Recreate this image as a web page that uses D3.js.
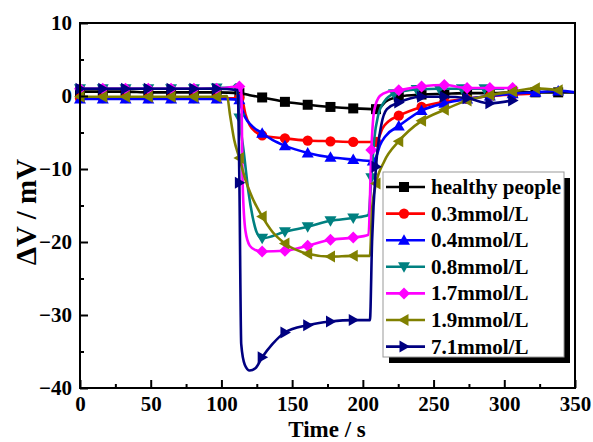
<!DOCTYPE html>
<html>
<head>
<meta charset="utf-8">
<script src="https://cdn.jsdelivr.net/npm/d3@7"></script>
<style>
  body { margin: 0; background: #fff; }
  svg text { font-family: "Liberation Serif", "Times New Roman", serif; font-weight: bold; }
</style>
</head>
<body>
<svg width="593" height="442"></svg>
<script>
// data: [time s, dV mV, marker?]
var seriesNames = ["healthy people", "0.3mmol/L", "0.4mmol/L", "0.8mmol/L", "1.7mmol/L", "1.9mmol/L", "7.1mmol/L"];
var seriesColors = ["#000000", "#ff0000", "#0000ff", "#008080", "#ff00ff", "#808000", "#000080"];
var seriesSymbols = ["square", "circle", "up", "down", "diamond", "left", "right"];

var healthy = [[0,0.6,1],[16.1,0.6,1],[32.2,0.6,1],[48.3,0.5,1],[64.4,0.5,1],[80.5,0.5,1],[96.6,0.5,1],[112.7,0.4,1],[120,0.1,0],
  [128.8,-0.2,1],[144.9,-0.8,1],[161,-1.2,1],[177.1,-1.5,1],[193.2,-1.7,1],[209.3,-1.8,1],[212,-1.6,0],[216,-0.8,0],
  [225.4,-0.1,1],[241.5,0.2,1],[257.6,0.3,1],[273.7,0.4,1],[289.8,0.4,1],[305.9,0.5,1],[322,0.5,1],[338.1,0.5,1],[350,0.5,0]];
var c03 = [[0,-0.3,1],[16.1,-0.3,1],[32.2,-0.3,1],[48.3,-0.3,1],[64.4,-0.3,1],[80.5,-0.3,1],[96.6,-0.3,1],[112.7,-0.3,1],
  [115,-0.8,0],[117,-2.5,0],[120,-4.0,0],[124,-4.9,0],[128.8,-5.4,1],[144.9,-5.8,1],[161,-6.1,1],[177.1,-6.2,1],[193.2,-6.3,1],
  [209.3,-6.3,1],[211,-5.8,0],[214,-4.4,0],[218,-3.5,0],[225.4,-2.7,1],[241.5,-1.5,1],[257.6,-0.8,1],[273.7,-0.4,1],
  [289.8,0,1],[305.9,0.2,1],[320,0.3,0]];
var c04 = [[0,-0.4,1],[16.1,-0.4,1],[32.2,-0.4,1],[48.3,-0.4,1],[64.4,-0.4,1],[80.5,-0.4,1],[96.6,-0.4,1],[112.7,-0.5,1],
  [114,-1.5,0],[117,-3.0,0],[121,-4.0,0],[128.8,-5.1,1],[136,-6.0,0],[144.9,-6.8,1],[161,-7.8,1],[177.1,-8.4,1],[193.2,-8.7,1],
  [207,-8.9,1],[209.5,-8.3,0],[212,-6.8,0],[216,-5.5,0],[225.4,-4.1,1],[241.5,-2.0,1],[257.6,-1.0,1],[273.7,-0.4,1],
  [289.8,0,1],[305.9,0.3,1],[322,0.5,1],[338.1,0.7,1],[350,0.5,0]];
var c08 = [[0,1.0,1],[16.1,1.0,1],[32.2,1.0,1],[48.3,1.0,1],[64.4,1.0,1],[80.5,1.0,1],[96.6,1.1,1],[108,1.2,0],[110.5,1.6,0],
  [112.7,-3.0,1],[116,-8,0],[119,-13,0],[122,-16.5,0],[125,-18.7,0],[128.8,-19.5,1],[144.9,-18.6,1],[161,-17.9,1],
  [177.1,-17.1,1],[193.2,-16.7,1],[204,-16.3,0],[206,-11.2,1],[208,-6,0],[211,-2.5,0],[215,-0.8,0],[222,0.3,1],
  [238,0.9,1],[254,1.0,1],[270,1.0,1],[286,1.0,1],[300,1.0,0]];
var c17 = [[0,1.0,1],[16.1,1.0,1],[32.2,1.0,1],[48.3,1.0,1],[64.4,1.0,1],[80.5,1.0,1],[96.6,1.0,1],[112.7,1.3,1],[114,1.0,0],
  [115,-12,0],[117,-18.5,0],[120,-20.5,0],[124,-21.1,0],[128.8,-21.3,1],[144.9,-21.2,1],[161,-20.5,1],[177.1,-19.7,1],
  [193.2,-19.4,1],[204,-19.0,0],[206,-7.4,1],[208,-2,0],[212,0.0,0],[218,0.6,0],[225.4,0.8,1],[241.5,1.3,1],[257.6,1.5,1],
  [273.7,1.1,1],[289.8,1.1,1],[305.9,1.1,1]];
var c19 = [[0,-0.1,1],[16.1,-0.1,1],[32.2,-0.1,1],[48.3,-0.1,1],[64.4,-0.1,1],[80.5,-0.1,1],[96.6,-0.1,1],[104,0,0],
  [106,-2.5,0],[109,-6,0],[112.7,-8.5,1],[117,-11.5,0],[122,-14,0],[128.8,-16.5,1],[136,-18.6,0],[144.9,-20.2,1],
  [161,-21.6,1],[177.1,-22.0,1],[193.2,-21.9,1],[205,-21.9,0],[206.5,-15.5,0],[209.3,-12,1],[215,-9,0],[225.4,-6.2,1],
  [241.5,-3.4,1],[257.6,-1.9,1],[273.7,-0.6,1],[289.8,0.1,1],[305.9,0.6,1],[322,1.05,1],[338.1,0.8,1]];
var c71 = [[0,1.0,1],[16.1,1.0,1],[32.2,1.0,1],[48.3,1.0,1],[64.4,1.0,1],[80.5,1.0,1],[96.6,1.0,1],[111.5,0.8,0],
  [112.7,-11.9,1],[114,-34,0],[116.5,-36.8,0],[120,-37.6,0],[124,-37.3,0],[128.8,-35.8,1],[136,-34,0],[144.9,-32.4,1],
  [161,-31.4,1],[177.1,-30.9,1],[193.2,-30.7,1],[205,-30.7,0],[206.5,-20,0],[209.3,-9.7,1],[213,-4,0],[217,-1.8,0],
  [225.4,-0.9,1],[241.5,-0.1,1],[257.6,-0.1,1],[273.7,-0.3,1],[289.8,-1.0,1],[305.9,-0.6,1]];
var seriesData = [healthy, c03, c04, c08, c17, c19, c71];

var xTicks = [0, 50, 100, 150, 200, 250, 300, 350];
var xMinor = [25, 75, 125, 175, 225, 275, 325];
var yTicks = [10, 0, -10, -20, -30, -40];
var yMinor = [5, -5, -15, -25, -35];

var svg = d3.select("svg");
var x = d3.scaleLinear().domain([0, 350]).range([80, 575]);
var y = d3.scaleLinear().domain([-40, 10]).range([388, 23]);

function symbolPath(type, r) {
  if (type == "square") return "M" + (-r) + "," + (-r) + "h" + 2 * r + "v" + 2 * r + "h" + (-2 * r) + "Z";
  if (type == "circle") return d3.symbol(d3.symbolCircle, Math.PI * r * r * 1.05)();
  var k = r * 1.2;
  if (type == "up") return "M0," + (-k) + "L" + k + "," + k * 0.75 + "L" + (-k) + "," + k * 0.75 + "Z";
  if (type == "down") return "M0," + k + "L" + k + "," + (-k * 0.75) + "L" + (-k) + "," + (-k * 0.75) + "Z";
  if (type == "left") return "M" + (-k) + ",0L" + k * 0.75 + "," + (-k) + "L" + k * 0.75 + "," + k + "Z";
  if (type == "right") return "M" + k + ",0L" + (-k * 0.75) + "," + (-k) + "L" + (-k * 0.75) + "," + k + "Z";
  if (type == "diamond") return "M0," + (-k) + "L" + k + ",0L0," + k + "L" + (-k) + ",0Z";
}

var line = d3.line()
  .x(function(d) { return x(d[0]); })
  .y(function(d) { return y(d[1]); })
  .curve(d3.curveMonotoneX);

var plot = svg.append("g");
seriesData.forEach(function(data, i) {
  var g = plot.append("g");
  g.append("path")
    .attr("d", line(data))
    .attr("fill", "none")
    .attr("stroke", seriesColors[i])
    .attr("stroke-width", 2.6);
  g.selectAll(".m")
    .data(data.filter(function(d) { return d[2]; }))
    .enter().append("path")
    .attr("transform", function(d) { return "translate(" + x(d[0]) + "," + y(d[1]) + ")"; })
    .attr("d", symbolPath(seriesSymbols[i], 5))
    .attr("fill", seriesColors[i]);
});

// axes (ticks inside)
svg.append("g").attr("transform", "translate(0,388)")
  .call(d3.axisBottom(x).tickValues(xTicks).tickSize(-8).tickPadding(8));
svg.append("g").attr("transform", "translate(0,388)")
  .call(d3.axisBottom(x).tickValues(xMinor).tickSize(-4).tickFormat(""));
svg.append("g").attr("transform", "translate(80,0)")
  .call(d3.axisLeft(y).tickValues(yTicks).tickSize(-8).tickPadding(8));
svg.append("g").attr("transform", "translate(80,0)")
  .call(d3.axisLeft(y).tickValues(yMinor).tickSize(-4).tickFormat(""));
svg.selectAll(".domain").remove();
svg.selectAll(".tick line").attr("stroke", "#000").attr("stroke-width", 2);
svg.selectAll(".tick text").attr("font-size", 21).attr("font-family", "Liberation Serif").attr("fill", "#000");

svg.append("rect")
  .attr("x", 80).attr("y", 23).attr("width", 495).attr("height", 365)
  .attr("fill", "none").attr("stroke", "#000").attr("stroke-width", 2);

svg.append("text")
  .attr("x", 327).attr("y", 436.5)
  .attr("text-anchor", "middle")
  .attr("font-size", 23)
  .text("Time / s");
svg.append("text")
  .attr("transform", "translate(36,212) rotate(-90)")
  .attr("text-anchor", "middle")
  .attr("font-size", 29)
  .text("ΔV / mV");

// legend
var lg = svg.append("g");
lg.append("rect").attr("x", 389).attr("y", 178).attr("width", 181).attr("height", 185).attr("fill", "#000");
lg.append("rect").attr("x", 383).attr("y", 172).attr("width", 181).attr("height", 185)
  .attr("fill", "#fff").attr("stroke", "#999").attr("stroke-width", 1);
seriesNames.forEach(function(name, i) {
  var yy = 187 + i * 26.6;
  lg.append("line").attr("x1", 386).attr("x2", 425).attr("y1", yy).attr("y2", yy)
    .attr("stroke", seriesColors[i]).attr("stroke-width", 2.6);
  lg.append("path").attr("transform", "translate(404," + yy + ")")
    .attr("d", symbolPath(seriesSymbols[i], 5)).attr("fill", seriesColors[i]);
  lg.append("text").attr("x", 431).attr("y", yy + 7).attr("font-size", 21).text(name);
});
</script>
</body>
</html>
